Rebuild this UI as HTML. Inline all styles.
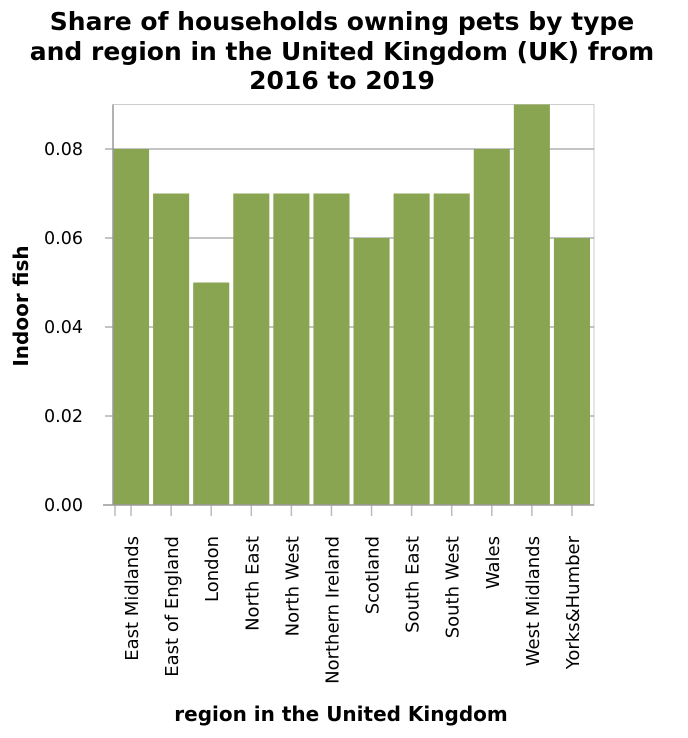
<!DOCTYPE html>
<html><head><meta charset="utf-8"><style>
body{margin:0;background:#fff;font-family:"DejaVu Sans",sans-serif;}
</style></head><body>
<svg width="688" height="734" xmlns="http://www.w3.org/2000/svg" font-family="DejaVu Sans, sans-serif">
<g font-weight="bold" font-size="25" text-anchor="middle" fill="#000">
<text x="342" y="30">Share of households owning pets by type</text>
<text x="342" y="60">and region in the United Kingdom (UK) from</text>
<text x="342" y="89">2016 to 2019</text>
</g>
<g id="grid"></g>
<g id="bars"></g>
<g id="axes"></g>
<text x="28" y="306" transform="rotate(-90 28 306)" font-weight="bold" font-size="20" text-anchor="middle">Indoor fish</text>
<text x="341" y="721" font-weight="bold" font-size="20" text-anchor="middle">region in the United Kingdom</text>
</svg>
<script>
const categories=["East Midlands","East of England","London","North East","North West","Northern Ireland","Scotland","South East","South West","Wales","West Midlands","Yorks&Humber"];
const values=[0.08,0.07,0.05,0.07,0.07,0.07,0.06,0.07,0.07,0.08,0.09,0.06];
const yTicks=[0,0.02,0.04,0.06,0.08];
const yTickLabels=["0.00","0.02","0.04","0.06","0.08"];
const NS="http://www.w3.org/2000/svg";
const L=113,R=594,T=104.5,B=505,YMAX=0.09;
const y=v=>B-(v/YMAX)*(B-T);
const band=(R-L)/categories.length;
const x=i=>L+i*band;
function mk(tag,attrs,parent){const e=document.createElementNS(NS,tag);for(const k in attrs)e.setAttribute(k,attrs[k]);document.getElementById(parent).appendChild(e);return e;}
let f=mk('rect',{x:L,y:T,width:R-L,height:B-T,fill:'none',stroke:'#ccc','stroke-width':1},'grid');


yTicks.forEach((t,i)=>{
  const g=mk('line',{x1:L,x2:R,y1:y(t),y2:y(t),stroke:'#888','stroke-width':1},'grid');
  
  
  const tk=mk('line',{x1:L-8,x2:L,y1:y(t),y2:y(t),stroke:'#888','stroke-width':1},'axes');
  
  
  const lb=mk('text',{x:L-30,y:y(t)+6,'font-size':17.5,'text-anchor':'end'},'axes');
  lb.textContent=yTickLabels[i];
  
  
});
values.forEach((v,i)=>{
  const b=mk('rect',{x:x(i),y:y(v),width:band-4,height:B-y(v),fill:'#8aa552'},'bars');
  
  
  const cx=x(i)+(band-4)/2;
  const tk=mk('line',{x1:cx,x2:cx,y1:B,y2:B+11,stroke:'#bbb','stroke-width':1.5},'axes');
  
  
  const lb=mk('text',{x:0,y:0,'font-size':18,'text-anchor':'end',transform:`translate(${cx+7},${B+31}) rotate(-90)`},'axes');
  lb.textContent=categories[i];
  
  
});
let e=mk('line',{x1:L+2,x2:L+2,y1:B,y2:B+11,stroke:'#bbb','stroke-width':1.5},'axes');


let ax=mk('line',{x1:L-10,x2:R,y1:B,y2:B,stroke:'#999','stroke-width':1.5},'axes');


let ay=mk('line',{x1:L,x2:L,y1:T,y2:B,stroke:'#999','stroke-width':1.5},'axes');


</script>
</body></html>
